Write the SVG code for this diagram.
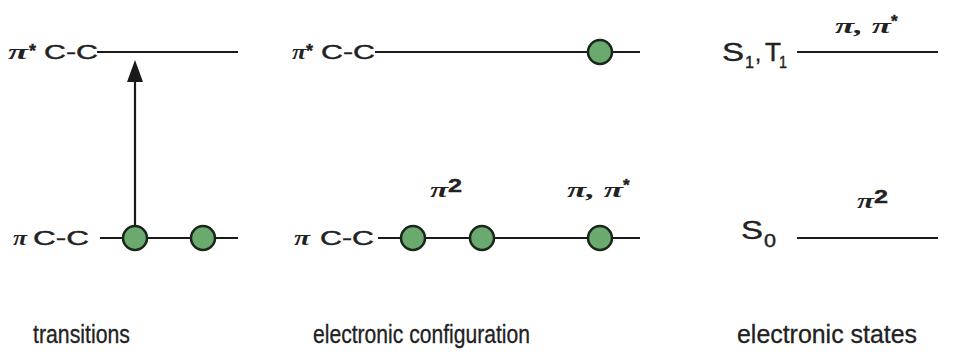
<svg xmlns="http://www.w3.org/2000/svg" width="963" height="354" viewBox="0 0 963 354">
<style>
.lvl{stroke:#1a1a1a;stroke-width:2.2;fill:none}
.e{fill:#6aaa6e;stroke:#1b261b;stroke-width:2.5}
.s{font-family:"Liberation Sans",Arial,sans-serif;fill:#222;stroke:#222;stroke-width:0.4}
.gr{font-family:"Liberation Serif","DejaVu Serif",serif;font-weight:bold;font-style:italic;fill:#222}
.t{font-family:"Liberation Sans",Arial,sans-serif;font-size:26px;fill:#222;stroke:#222;stroke-width:0.3}
</style>
<defs>
<marker id="ah" viewBox="0 -8 22 16" markerWidth="22" markerHeight="16" refX="12" refY="0" orient="auto" markerUnits="userSpaceOnUse">
<path d="M0,-8 L22,0 L0,8 z" fill="#1a1a1a"/>
</marker>
</defs>
<rect width="963" height="354" fill="#fff"/>

<g id="connectors">
<line x1="135" y1="226" x2="135" y2="70" class="lvl" marker-end="url(#ah)"/>
</g>

<g id="transitions-pistar">
<text class="gr" x="8" y="59" font-size="22" textLength="20" lengthAdjust="spacingAndGlyphs">π</text>
<text class="s" x="29" y="57" font-size="18" font-weight="bold">*</text>
<text class="s" x="44" y="59" font-size="21" textLength="54" lengthAdjust="spacingAndGlyphs">C-C</text>
<line x1="97" y1="52" x2="238" y2="52" class="lvl"/>
</g>

<g id="transitions-pi">
<text class="gr" x="13" y="245" font-size="22" textLength="14" lengthAdjust="spacingAndGlyphs">π</text>
<text class="s" x="33" y="245" font-size="21" textLength="56" lengthAdjust="spacingAndGlyphs">C-C</text>
<line x1="100" y1="238" x2="238" y2="238" class="lvl"/>
<circle cx="135" cy="238" r="12" class="e"/>
<circle cx="203" cy="238" r="12" class="e"/>
</g>

<g id="config-pistar">
<text class="gr" x="292" y="59" font-size="22" textLength="14" lengthAdjust="spacingAndGlyphs">π</text>
<text class="s" x="306" y="57" font-size="18" font-weight="bold">*</text>
<text class="s" x="321" y="59" font-size="21" textLength="54" lengthAdjust="spacingAndGlyphs">C-C</text>
<line x1="375" y1="52" x2="640" y2="52" class="lvl"/>
<circle cx="600" cy="52" r="12" class="e"/>
</g>

<g id="config-pi">
<text class="gr" x="294" y="245" font-size="22" textLength="16" lengthAdjust="spacingAndGlyphs">π</text>
<text class="s" x="320" y="245" font-size="21" textLength="54" lengthAdjust="spacingAndGlyphs">C-C</text>
<line x1="378" y1="238" x2="640" y2="238" class="lvl"/>
<circle cx="413" cy="238" r="12" class="e"/>
<circle cx="482" cy="238" r="12" class="e"/>
<circle cx="600" cy="238" r="12" class="e"/>
<text class="gr" x="430" y="197" font-size="22" textLength="18" lengthAdjust="spacingAndGlyphs">π</text>
<text class="s" x="448" y="192" font-size="18" font-weight="bold" textLength="14" lengthAdjust="spacingAndGlyphs">2</text>
<text class="gr" x="567" y="197" font-size="22" textLength="56" lengthAdjust="spacingAndGlyphs">π, π</text>
<text class="s" x="623" y="191" font-size="17" font-weight="bold">*</text>
</g>

<g id="states-S1T1">
<text class="s" x="722" y="61" font-size="25" textLength="22" lengthAdjust="spacingAndGlyphs">S</text>
<text class="s" x="745" y="68" font-size="17" textLength="9" lengthAdjust="spacingAndGlyphs">1</text>
<text class="s" x="755" y="61" font-size="22">,</text>
<text class="s" x="765" y="61" font-size="25" textLength="16" lengthAdjust="spacingAndGlyphs">T</text>
<text class="s" x="779" y="68" font-size="17" textLength="8" lengthAdjust="spacingAndGlyphs">1</text>
<line x1="797" y1="52" x2="938" y2="52" class="lvl"/>
<text class="gr" x="835" y="33" font-size="22" textLength="56" lengthAdjust="spacingAndGlyphs">π, π</text>
<text class="s" x="891" y="27" font-size="17" font-weight="bold">*</text>
</g>

<g id="states-S0">
<text class="s" x="741" y="239" font-size="25" textLength="22" lengthAdjust="spacingAndGlyphs">S</text>
<text class="s" x="764" y="247" font-size="18" textLength="12" lengthAdjust="spacingAndGlyphs">0</text>
<line x1="797" y1="238" x2="938" y2="238" class="lvl"/>
<text class="gr" x="857" y="208" font-size="22" textLength="17" lengthAdjust="spacingAndGlyphs">π</text>
<text class="s" x="874" y="203" font-size="18" font-weight="bold" textLength="14" lengthAdjust="spacingAndGlyphs">2</text>
</g>

<g id="titles">
<text class="t" x="33" y="343" textLength="97" lengthAdjust="spacingAndGlyphs">transitions</text>
<text class="t" x="313" y="343" textLength="217" lengthAdjust="spacingAndGlyphs">electronic configuration</text>
<text class="t" x="737" y="343" textLength="180" lengthAdjust="spacingAndGlyphs">electronic states</text>
</g>
</svg>
